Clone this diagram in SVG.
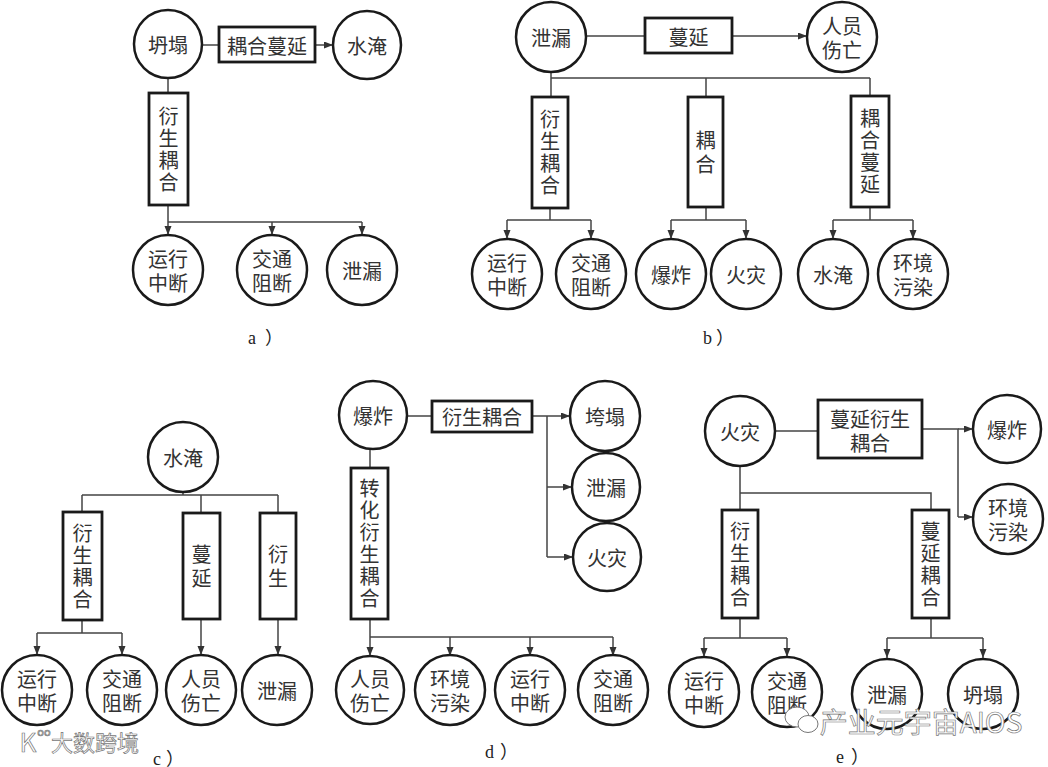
<svg xmlns="http://www.w3.org/2000/svg" width="1048" height="767" viewBox="0 0 1048 767">
<style>
.bg{fill:#fff}
.n circle{fill:#fff;stroke:#1a1a1a;stroke-width:2.5}
.b rect{fill:#fff;stroke:#1a1a1a;stroke-width:2.8}
text{font-family:"Noto Sans CJK SC","Noto Sans CJK JP",sans-serif;font-size:20px;fill:#333;text-anchor:middle;dominant-baseline:central}
.v{writing-mode:vertical-rl;letter-spacing:2px}
.v2{writing-mode:vertical-rl;letter-spacing:4px}
.lab{font-family:"Liberation Serif","Noto Sans CJK SC",serif;font-size:18px;fill:#222;text-anchor:start}
#connectors path{stroke:#444;stroke-width:1.5;fill:none}
#connectors .a{marker-end:url(#ah)}
.wm{fill:#fff;stroke:#777;stroke-width:0.7;font-size:27px}
.wmi{fill:#fff;stroke:#777;stroke-width:1}
</style>
<defs>
<marker id="ah" markerUnits="userSpaceOnUse" markerWidth="10" markerHeight="8" refX="9" refY="3.5" orient="auto">
<path d="M0,0 L9,3.5 L0,7 z" fill="#333"/>
</marker>
</defs>
<rect class="bg" width="1048" height="767"/>

<g id="connectors">
<!-- a -->
<path d="M202,45 H219"/>
<path class="a" d="M315,45 H333"/>
<path d="M168,78 V93"/>
<path d="M168,205 V222 M168,222 H362"/>
<path class="a" d="M168,222 V235"/>
<path class="a" d="M272,222 V235"/>
<path class="a" d="M362,222 V235"/>
<!-- b -->
<path d="M586,36 H645"/>
<path class="a" d="M732,36 H807"/>
<path d="M551,72 V78 M551,78 H870 M551,78 V97 M706,78 V97 M870,78 V96"/>
<path d="M550,208 V220 M507,220 H591"/>
<path class="a" d="M507,220 V239"/>
<path class="a" d="M591,220 V239"/>
<path d="M706,207 V220 M671,220 H746"/>
<path class="a" d="M671,220 V239"/>
<path class="a" d="M746,220 V239"/>
<path d="M870,207 V220 M833,220 H913"/>
<path class="a" d="M833,220 V239"/>
<path class="a" d="M913,220 V239"/>
<!-- c -->
<path d="M183,492 V495 M82,495 H278 M82,495 V512 M201,495 V513 M278,495 V513"/>
<path d="M82,620 V633 M37,633 H122"/>
<path class="a" d="M37,633 V655"/>
<path class="a" d="M122,633 V655"/>
<path class="a" d="M201,619 V655"/>
<path class="a" d="M278,619 V655"/>
<!-- d -->
<path d="M407,416 H432"/>
<path class="a" d="M532,416 H570"/>
<path d="M547,416 V557"/>
<path class="a" d="M547,487 H572"/>
<path class="a" d="M547,557 H573"/>
<path d="M370,449 V468"/>
<path d="M370,619 V637 M370,637 H613"/>
<path class="a" d="M370,637 V656"/>
<path class="a" d="M450,637 V656"/>
<path class="a" d="M530,637 V656"/>
<path class="a" d="M613,637 V656"/>
<!-- e -->
<path d="M775,431 H818"/>
<path d="M922,429 H958 V517"/>
<path class="a" d="M958,429 H973"/>
<path class="a" d="M958,517 H973"/>
<path d="M740,466 V510 M740,493 H931 V510"/>
<path d="M740,618 V638 M704,638 H787"/>
<path class="a" d="M704,638 V657"/>
<path class="a" d="M787,638 V657"/>
<path d="M931,618 V638 M887,638 H983"/>
<path class="a" d="M887,638 V658"/>
<path class="a" d="M983,638 V658"/>
</g>

<!-- Panel a -->
<g id="a-tanta" class="n"><circle cx="168" cy="44" r="34"/><text x="168" y="44">坍塌</text></g>
<g id="a-coupling-spread" class="b"><rect x="219" y="27" width="96" height="35"/><text x="267" y="45">耦合蔓延</text></g>
<g id="a-flood" class="n"><circle cx="367" cy="45" r="34"/><text x="367" y="45">水淹</text></g>
<g id="a-derive" class="b"><rect x="149" y="93" width="39" height="112"/><text class="v" x="168.5" y="150">衍生耦合</text></g>
<g id="a-op" class="n"><circle cx="168" cy="270" r="35"/><text><tspan x="168" y="258">运行</tspan><tspan x="168" y="282">中断</tspan></text></g>
<g id="a-traffic" class="n"><circle cx="272" cy="270" r="35"/><text><tspan x="272" y="258">交通</tspan><tspan x="272" y="282">阻断</tspan></text></g>
<g id="a-leak" class="n"><circle cx="362" cy="270" r="35"/><text x="362" y="270">泄漏</text></g>
<text class="lab" y="338"><tspan x="248">a</tspan><tspan x="265">）</tspan></text>

<!-- Panel b -->
<g id="b-leak" class="n"><circle cx="551" cy="37" r="35"/><text x="551" y="37">泄漏</text></g>
<g id="b-spread" class="b"><rect x="645" y="18" width="87" height="35"/><text x="688.5" y="36">蔓延</text></g>
<g id="b-casualty" class="n"><circle cx="842" cy="37" r="35"/><text><tspan x="842" y="25">人员</tspan><tspan x="842" y="49">伤亡</tspan></text></g>
<g id="b-derive" class="b"><rect x="532" y="97" width="36" height="111"/><text class="v" x="550" y="153.5">衍生耦合</text></g>
<g id="b-couple" class="b"><rect x="688" y="97" width="35" height="110"/><text class="v2" x="705.5" y="154">耦合</text></g>
<g id="b-couple-spread" class="b"><rect x="851" y="96" width="38" height="111"/><text class="v" x="870" y="152.5">耦合蔓延</text></g>
<g id="b-op" class="n"><circle cx="507" cy="274" r="35"/><text><tspan x="507" y="262">运行</tspan><tspan x="507" y="286">中断</tspan></text></g>
<g id="b-traffic" class="n"><circle cx="591" cy="274" r="35"/><text><tspan x="591" y="262">交通</tspan><tspan x="591" y="286">阻断</tspan></text></g>
<g id="b-explosion" class="n"><circle cx="671" cy="274" r="35"/><text x="671" y="274">爆炸</text></g>
<g id="b-fire" class="n"><circle cx="746" cy="274" r="35"/><text x="746" y="274">火灾</text></g>
<g id="b-flood" class="n"><circle cx="833" cy="274" r="35"/><text x="833" y="274">水淹</text></g>
<g id="b-env" class="n"><circle cx="913" cy="274" r="35"/><text><tspan x="913" y="262">环境</tspan><tspan x="913" y="286">污染</tspan></text></g>
<text class="lab" y="338"><tspan x="703">b</tspan><tspan x="716">）</tspan></text>

<!-- Panel c -->
<g id="c-flood" class="n"><circle cx="183" cy="457" r="35"/><text x="183" y="457">水淹</text></g>
<g id="c-derive-couple" class="b"><rect x="63" y="512" width="39" height="108"/><text class="v" x="82.5" y="567">衍生耦合</text></g>
<g id="c-spread" class="b"><rect x="183" y="513" width="37" height="106"/><text class="v2" x="201.5" y="568">蔓延</text></g>
<g id="c-derive" class="b"><rect x="260" y="513" width="36" height="106"/><text class="v2" x="278" y="568">衍生</text></g>
<g id="c-op" class="n"><circle cx="37" cy="690" r="35"/><text><tspan x="37" y="678">运行</tspan><tspan x="37" y="702">中断</tspan></text></g>
<g id="c-traffic" class="n"><circle cx="122" cy="690" r="35"/><text><tspan x="122" y="678">交通</tspan><tspan x="122" y="702">阻断</tspan></text></g>
<g id="c-casualty" class="n"><circle cx="201" cy="690" r="35"/><text><tspan x="201" y="678">人员</tspan><tspan x="201" y="702">伤亡</tspan></text></g>
<g id="c-leak" class="n"><circle cx="277" cy="690" r="35"/><text x="277" y="690">泄漏</text></g>
<text class="lab" y="759"><tspan x="153">c</tspan><tspan x="166">）</tspan></text>

<!-- Panel d -->
<g id="d-explosion" class="n"><circle cx="373" cy="415" r="34"/><text x="373" y="415">爆炸</text></g>
<g id="d-derive-couple" class="b"><rect x="432" y="401" width="100" height="31"/><text x="482" y="416.5">衍生耦合</text></g>
<g id="d-collapse" class="n"><circle cx="605" cy="416" r="35"/><text x="605" y="416">垮塌</text></g>
<g id="d-leak" class="n"><circle cx="606" cy="487" r="34"/><text x="606" y="487">泄漏</text></g>
<g id="d-fire" class="n"><circle cx="607" cy="557" r="34"/><text x="607" y="557">火灾</text></g>
<g id="d-transform" class="b"><rect x="351" y="468" width="37" height="151"/><text class="v" x="369.5" y="544.5">转化衍生耦合</text></g>
<g id="d-casualty" class="n"><circle cx="370" cy="690" r="34"/><text><tspan x="370" y="678">人员</tspan><tspan x="370" y="702">伤亡</tspan></text></g>
<g id="d-env" class="n"><circle cx="450" cy="690" r="35"/><text><tspan x="450" y="678">环境</tspan><tspan x="450" y="702">污染</tspan></text></g>
<g id="d-op" class="n"><circle cx="530" cy="690" r="35"/><text><tspan x="530" y="678">运行</tspan><tspan x="530" y="702">中断</tspan></text></g>
<g id="d-traffic" class="n"><circle cx="613" cy="690" r="35"/><text><tspan x="613" y="678">交通</tspan><tspan x="613" y="702">阻断</tspan></text></g>
<text class="lab" y="752"><tspan x="485">d</tspan><tspan x="500">）</tspan></text>

<!-- Panel e -->
<g id="e-fire" class="n"><circle cx="740" cy="431" r="35"/><text x="740" y="431">火灾</text></g>
<g id="e-spread-derive" class="b"><rect x="818" y="400" width="104" height="58"/><text><tspan x="870" y="418">蔓延衍生</tspan><tspan x="870" y="442">耦合</tspan></text></g>
<g id="e-explosion" class="n"><circle cx="1007" cy="429" r="34"/><text x="1007" y="429">爆炸</text></g>
<g id="e-env" class="n"><circle cx="1008" cy="519" r="35"/><text><tspan x="1008" y="507">环境</tspan><tspan x="1008" y="531">污染</tspan></text></g>
<g id="e-derive" class="b"><rect x="722" y="510" width="36" height="108"/><text class="v" x="740" y="565">衍生耦合</text></g>
<g id="e-spread-couple" class="b"><rect x="912" y="510" width="37" height="108"/><text class="v" x="930.5" y="565">蔓延耦合</text></g>
<g id="e-op" class="n"><circle cx="704" cy="692" r="35"/><text><tspan x="704" y="680">运行</tspan><tspan x="704" y="704">中断</tspan></text></g>
<g id="e-traffic" class="n"><circle cx="787" cy="692" r="35"/><text><tspan x="787" y="680">交通</tspan><tspan x="787" y="704">阻断</tspan></text></g>
<g id="e-leak" class="n"><circle cx="887" cy="694" r="35"/><text x="887" y="694">泄漏</text></g>
<g id="e-collapse" class="n"><circle cx="983" cy="694" r="35"/><text x="983" y="694">坍塌</text></g>
<text class="lab" y="757"><tspan x="836">e</tspan><tspan x="851">）</tspan></text>

<!-- watermarks -->
<g id="watermarks">
<text class="wm" x="28" y="740" style="font-size:26px">K</text>
<text class="wm" x="44" y="731" style="font-size:11px">oo</text>
<text class="wm" x="95" y="741" style="font-size:22px">大数跨境</text>
<ellipse class="wmi" cx="797" cy="717" rx="12" ry="10"/>
<ellipse class="wmi" cx="808" cy="724" rx="10" ry="8.5"/>
<text class="wm" x="921" y="721" style="font-size:28px">产业元宇宙AIOS</text>
</g>
</svg>
